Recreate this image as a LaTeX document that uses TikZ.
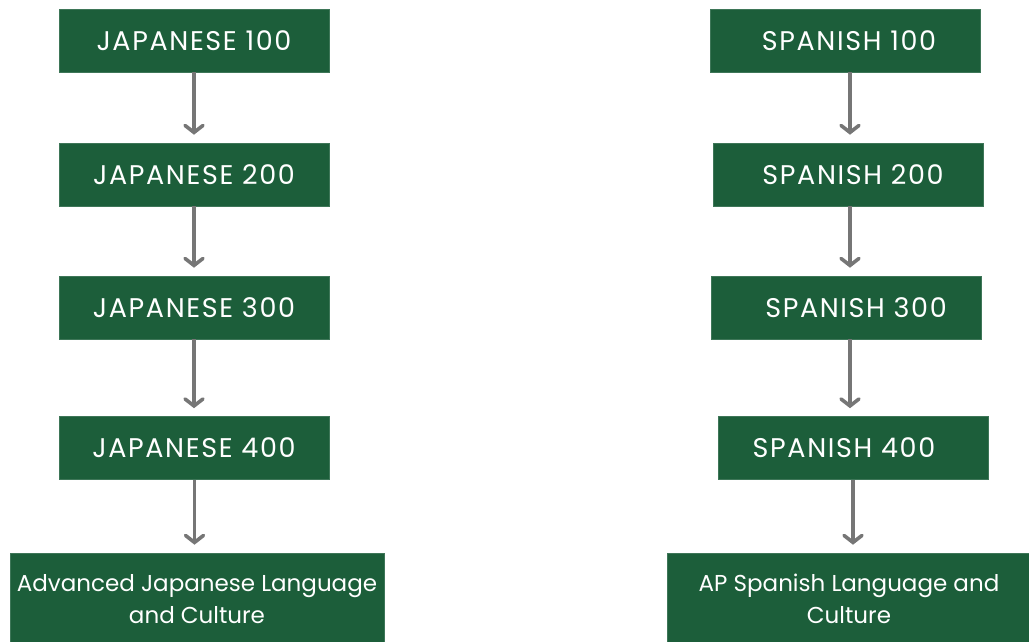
\documentclass[tikz,border=0pt]{standalone}
\usepackage{fontspec}
\setmainfont{Poppins}
\newfontfamily\capsfont[LetterSpace=6]{Poppins}
\usetikzlibrary{arrows.meta}
\definecolor{course}{RGB}{28,94,58}
\definecolor{flowgray}{RGB}{118,118,118}
\tikzset{
  course/.style={draw=course!85!white, line width=0.6pt, fill=course, text=white,
    inner sep=0pt, align=center, minimum width=270pt, minimum height=63pt,
    font=\capsfont\fontsize{27}{32}\selectfont},
  goal/.style={course, minimum height=92pt, font=\fontsize{23}{32}\selectfont},
  flow/.style={draw=flowgray, line width=3.6pt,
    -{Straight Barb[length=7pt,width=18pt,line cap=round]}, shorten >=8pt}
}
% shift a label sideways inside its box
\newcommand{\nudge}[2]{\hspace*{#1pt}#2}
\begin{document}
\begin{tikzpicture}[x=1pt,y=-1pt]
\useasboundingbox (0,0) rectangle (1029,641);
% Japanese track
\node[course] (J1) at (194,40.5) {JAPANESE 100};
\node[course] (J2) at (194,174.5) {JAPANESE 200};
\node[course] (J3) at (194,307.5) {JAPANESE 300};
\node[course] (J4) at (194,448) {JAPANESE 400};
\node[goal, minimum width=374pt] (J5) at (197,599) {Advanced Japanese Language\\and Culture};
% Spanish track
\node[course] (S1) at (845.5,40.5) {\nudge{7}{SPANISH 100}};
\node[course] (S2) at (848.5,174.5) {\nudge{9}{SPANISH 200}};
\node[course] (S3) at (846,307.5) {\nudge{20}{SPANISH 300}};
\node[course] (S4) at (853,448) {\nudge{-18}{SPANISH 400}};
\node[goal, minimum width=364pt] (S5) at (849,599) {AP Spanish Language and\\Culture};
% prerequisites
\draw[flow] (J1.south) -- (J2.north);
\draw[flow] (J2.south) -- (J3.north);
\draw[flow] (J3.south) -- (J4.north);
\draw[flow] ([xshift=0.5pt]J4.south) -- ([xshift=0.5pt]J4.south |- J5.north);
\draw[flow] ([xshift=4.5pt]S1.south) -- ([xshift=4.5pt]S1.south |- S2.north);
\draw[flow] ([xshift=1.5pt]S2.south) -- ([xshift=1.5pt]S2.south |- S3.north);
\draw[flow] ([xshift=4pt]S3.south) -- ([xshift=4pt]S3.south |- S4.north);
\draw[flow] (S4.south) -- (S4.south |- S5.north);
\end{tikzpicture}
\end{document}
